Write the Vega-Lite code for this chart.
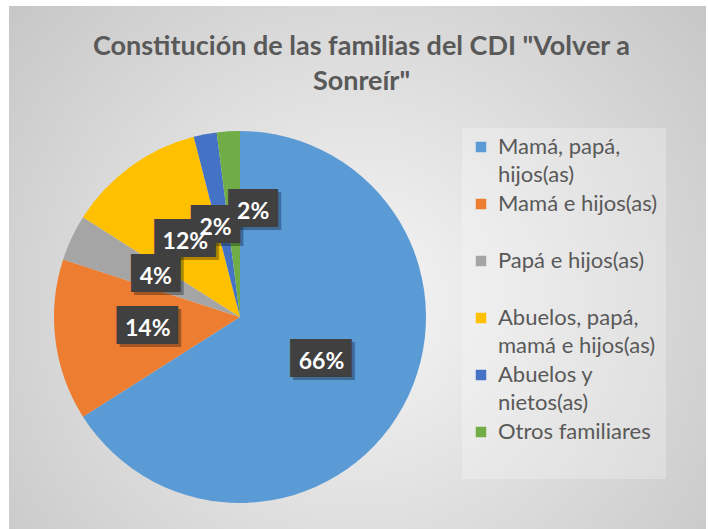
{
  "$schema": "https://vega.github.io/schema/vega-lite/v6.json",
  "width": 697,
  "height": 523,
  "autosize": {"type": "none"},
  "padding": {"left": 9, "top": 6, "right": 2, "bottom": 0},
  "background": "white",
  "title": {
    "text": ["Constitución de las familias del CDI \"Volver a", "Sonreír\""],
    "font": "Lato",
    "fontSize": 27,
    "fontWeight": "bold",
    "color": "#595959",
    "lineHeight": 35,
    "anchor": "middle",
    "offset": -90,
    "dx": 4
  },
  "config": {
    "view": {"stroke": "#bfbfbf", "strokeWidth": 1},
    "style": {"guide-label": {"lineHeight": 28}}
  },
  "data": {
    "values": [
      {"categoria": "Mamá, papá, hijos(as)", "porcentaje": 0.66, "orden": 1},
      {"categoria": "Mamá e hijos(as)", "porcentaje": 0.14, "orden": 2},
      {"categoria": "Papá e hijos(as)", "porcentaje": 0.04, "orden": 3},
      {"categoria": "Abuelos, papá, mamá e hijos(as)", "porcentaje": 0.12, "orden": 4},
      {"categoria": "Abuelos y nietos(as)", "porcentaje": 0.02, "orden": 5},
      {"categoria": "Otros familiares", "porcentaje": 0.02, "orden": 6}
    ]
  },
  "layer": [
    {
      "data": {"values": [{}]},
      "mark": {
        "type": "rect",
        "color": {
          "gradient": "radial",
          "x1": 0.5, "y1": 0.55, "r1": 0,
          "x2": 0.5, "y2": 0.55, "r2": 0.72,
          "stops": [
            {"offset": 0, "color": "#f6f6f6"},
            {"offset": 1, "color": "#c2c2c2"}
          ]
        }
      },
      "encoding": {}
    },
    {
      "mark": {"type": "arc", "outerRadius": 186, "x": 231, "y": 311, "stroke": null},
      "encoding": {
        "theta": {"field": "porcentaje", "type": "quantitative", "stack": true},
        "order": {"field": "orden", "type": "quantitative"},
        "color": {
          "field": "categoria",
          "type": "nominal",
          "scale": {
            "domain": ["Mamá, papá, hijos(as)", "Mamá e hijos(as)", "Papá e hijos(as)", "Abuelos, papá, mamá e hijos(as)", "Abuelos y nietos(as)", "Otros familiares"],
            "range": ["#5B9BD5", "#ED7D31", "#A5A5A5", "#FFC000", "#4472C4", "#70AD47"]
          },
          "legend": {
            "orient": "none",
            "legendX": 453,
            "legendY": 122,
            "title": null,
            "symbolType": "square",
            "symbolSize": 110,
            "symbolStrokeWidth": 0,
            "labelFont": "Lato",
            "labelFontSize": 22,
            "labelColor": "#595959",
            "labelLimit": 300,
            "labelOffset": 6,
            "labelBaseline": "middle",
            "rowPadding": 7,
            "padding": 8,
            "fillColor": "rgba(255,255,255,0.25)",
            "labelExpr": "datum.label == 'Mamá, papá, hijos(as)' ? ['Mamá, papá,', 'hijos(as)'] : datum.label == 'Abuelos, papá, mamá e hijos(as)' ? ['Abuelos, papá,', 'mamá e hijos(as)'] : datum.label == 'Abuelos y nietos(as)' ? ['Abuelos y', 'nietos(as)'] : [datum.label, '']",
            "encode": {"labels": {"update": {"lineHeight": {"value": 28}, "dy": {"value": 14}}}}
          }
        }
      }
    },
    {
      "mark": {
        "type": "text", "font": "DejaVu Sans", "fontSize": 32, "color": "#000000", "opacity": 0.3,
        "x": 231, "y": 311, "radius": 93,
        "dx": {"expr": "(datum.categoria == 'Otros familiares' ? 19 : datum.categoria == 'Abuelos y nietos(as)' ? -7 : 0) + (datum.porcentaje >= 0.1 ? 6 : 0) + 3"},
        "dy": {"expr": "(datum.categoria == 'Otros familiares' ? -12 : datum.categoria == 'Abuelos y nietos(as)' ? 2 : 0) - 3 + 3"}
      },
      "encoding": {
        "theta": {"field": "porcentaje", "type": "quantitative", "stack": true},
        "order": {"field": "orden", "type": "quantitative"},
        "text": {"condition": {"test": "datum.porcentaje >= 0.1", "value": "██▌"}, "value": "██"}
      }
    },
    {
      "mark": {
        "type": "text", "font": "DejaVu Sans", "fontSize": 32, "color": "#404040",
        "x": 231, "y": 311, "radius": 93,
        "dx": {"expr": "(datum.categoria == 'Otros familiares' ? 19 : datum.categoria == 'Abuelos y nietos(as)' ? -7 : 0) + (datum.porcentaje >= 0.1 ? 6 : 0)"},
        "dy": {"expr": "(datum.categoria == 'Otros familiares' ? -12 : datum.categoria == 'Abuelos y nietos(as)' ? 2 : 0) - 3"}
      },
      "encoding": {
        "theta": {"field": "porcentaje", "type": "quantitative", "stack": true},
        "order": {"field": "orden", "type": "quantitative"},
        "text": {"condition": {"test": "datum.porcentaje >= 0.1", "value": "██▌"}, "value": "██"}
      }
    },
    {
      "mark": {
        "type": "text", "font": "Lato", "fontSize": 23, "fontWeight": "bold", "color": "#ffffff",
        "x": 231, "y": 311, "radius": 93,
        "dx": {"expr": "datum.categoria == 'Otros familiares' ? 19 : datum.categoria == 'Abuelos y nietos(as)' ? -7 : 0"},
        "dy": {"expr": "datum.categoria == 'Otros familiares' ? -12 : datum.categoria == 'Abuelos y nietos(as)' ? 2 : 0"}
      },
      "encoding": {
        "theta": {"field": "porcentaje", "type": "quantitative", "stack": true},
        "order": {"field": "orden", "type": "quantitative"},
        "text": {"field": "porcentaje", "type": "quantitative", "format": ".0%"}
      }
    }
  ]
}
